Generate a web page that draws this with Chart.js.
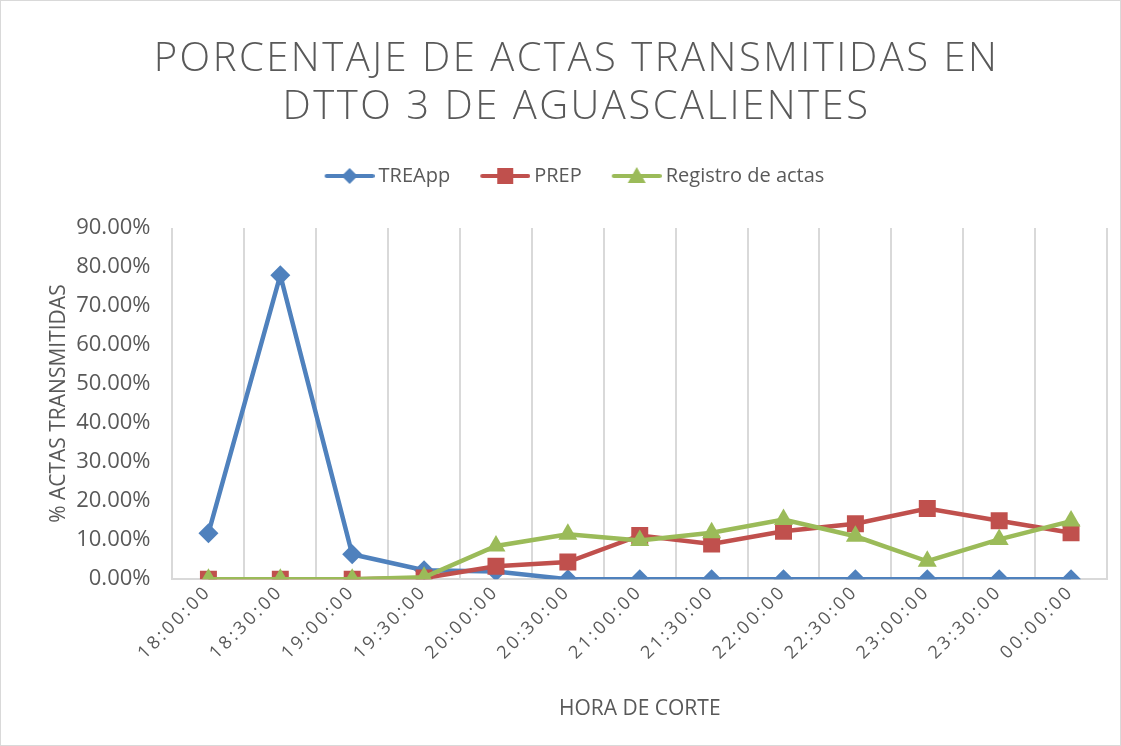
<!DOCTYPE html>
<html>
<head>
<meta charset="utf-8">
<script src="https://cdn.jsdelivr.net/npm/chart.js@4.4.1/dist/chart.umd.min.js"></script>
<style>
    html, body { margin: 0; padding: 0; background: #fff; }
    .chart-box {
        position: relative;
        width: 1119px;
        height: 744px;
        border: 1px solid #d9d9d9;
        background: #fff;
    }
</style>
</head>
<body>
<div class="chart-box">
    <canvas id="actasChart"></canvas>
</div>
<script>
/* ── Data ── */
const horas = ['18:00:00', '18:30:00', '19:00:00', '19:30:00', '20:00:00', '20:30:00', '21:00:00',
               '21:30:00', '22:00:00', '22:30:00', '23:00:00', '23:30:00', '00:00:00'];
const treapp = [11.8, 77.9, 6.4, 2.3, 2.0, 0, 0, 0, 0, 0, 0, 0, 0];
const prep = [0, 0, 0, 0.3, 3.3, 4.4, 11.2, 9.0, 12.3, 14.2, 18.1, 15.0, 11.9];
const registro = [0, 0, 0, 0.5, 8.5, 11.5, 9.9, 11.9, 15.3, 11.0, 4.6, 10.2, 14.9];

const TEXT = '#595959';
const GRID = '#d9d9d9';
const FONT = "'Open Sans', sans-serif";

/* Legend swatch: short line with the marker in the middle */
function legendSwatch(color, style) {
    const c = document.createElement('canvas');
    c.width = 52;
    c.height = 20;
    const g = c.getContext('2d');
    g.strokeStyle = color;
    g.lineWidth = 4;
    g.lineCap = 'round';
    g.beginPath();
    g.moveTo(4, 10);
    g.lineTo(50, 10);
    g.stroke();
    g.fillStyle = color;
    g.beginPath();
    if (style === 'rectRot') {
        g.moveTo(27, 2); g.lineTo(35, 10); g.lineTo(27, 18); g.lineTo(19, 10);
    } else if (style === 'rect') {
        g.rect(19, 2, 16, 16);
    } else {
        g.moveTo(27, 1); g.lineTo(36, 17); g.lineTo(18, 17);
    }
    g.closePath();
    g.fill();
    return c;
}

function serie(label, data, color, style, radius, order) {
    return {
        label: label,
        data: data,
        borderColor: color,
        backgroundColor: color,
        borderWidth: 4.5,
        pointStyle: style,
        pointRadius: radius,
        pointHoverRadius: radius,
        pointBorderWidth: 0,
        tension: 0,
        order: order,
    };
}

const swatches = [
    legendSwatch('#4f81bd', 'rectRot'),
    legendSwatch('#c0504d', 'rect'),
    legendSwatch('#9bbb59', 'triangle'),
];

/* Spaced-out letters on the title and the x tick labels */
function withSpacing(obj, name, spacing) {
    const fn = obj[name];
    if (typeof fn !== 'function') return;
    obj[name] = function (...args) {
        const c = this.ctx;
        const prev = c.letterSpacing;
        c.letterSpacing = spacing;
        try {
            return fn.apply(this, args);
        } finally {
            c.letterSpacing = prev;
        }
    };
}

const layoutTweaks = {
    id: 'layoutTweaks',
    beforeInit(chart) {
        if (chart.legend) {
            const fit = chart.legend.fit;
            chart.legend.fit = function () {
                fit.call(this);
                this.height += 32;
            };
        }
        if (chart.titleBlock) withSpacing(chart.titleBlock, 'draw', '2.5px');
    },
    beforeLayout(chart) {
        const xs = chart.scales.x;
        if (!xs || xs._spaced) return;
        xs._spaced = true;
        withSpacing(xs, '_computeLabelSizes', '3px');
        withSpacing(xs, 'drawLabels', '3px');
        // rotated labels may hang left of the plot, like the original
        const calc = xs._calculatePadding;
        if (typeof calc === 'function') {
            xs._calculatePadding = function (...args) {
                calc.apply(this, args);
                this.paddingLeft = 0;
                this.paddingRight = 0;
            };
        }
    }
};

const ctx = document.getElementById('actasChart');

new Chart(ctx, {
    type: 'line',
    data: {
        labels: horas,
        datasets: [
            serie('TREApp', treapp, '#4f81bd', 'rectRot', 10, 3),
            serie('PREP', prep, '#c0504d', 'rect', 12, 2),
            serie('Registro de actas', registro, '#9bbb59', 'triangle', 11, 1),
        ]
    },
    plugins: [layoutTweaks],
    options: {
        responsive: true,
        maintainAspectRatio: false,
        animation: false,
        layout: {
            autoPadding: false,
            padding: { left: 45, right: 13, top: 35, bottom: 19 }
        },
        plugins: {
            title: {
                display: true,
                text: ['PORCENTAJE DE ACTAS TRANSMITIDAS EN', 'DTTO 3 DE AGUASCALIENTES'],
                color: TEXT,
                font: { family: FONT, size: 40, weight: '300', lineHeight: 1.2 },
                padding: { top: 0, bottom: 0 }
            },
            legend: {
                position: 'top',
                labels: {
                    color: TEXT,
                    font: { family: FONT, size: 20 },
                    usePointStyle: true,
                    pointStyleWidth: 40,
                    boxHeight: 20,
                    padding: 34,
                    generateLabels: (c) => c.data.datasets.map((ds, i) => ({
                        text: ds.label,
                        fontColor: TEXT,
                        pointStyle: swatches[i],
                        datasetIndex: i,
                        hidden: false,
                        lineWidth: 0,
                    }))
                }
            },
            tooltip: { enabled: false }
        },
        scales: {
            x: {
                offset: true,
                grid: {
                    display: true,
                    offset: true,
                    color: GRID,
                    lineWidth: 2,
                    drawTicks: false,
                },
                border: { display: true, color: GRID, width: 2 },
                ticks: {
                    color: TEXT,
                    font: { family: FONT, size: 18 },
                    maxRotation: 45,
                    minRotation: 45,
                    padding: 2,
                    autoSkip: false,
                },
                title: {
                    display: true,
                    text: 'HORA DE CORTE',
                    color: TEXT,
                    font: { family: FONT, size: 21 },
                    padding: { top: 31 }
                }
            },
            y: {
                min: 0,
                max: 90,
                grid: { display: false, drawTicks: false },
                border: { display: false },
                ticks: {
                    stepSize: 10,
                    color: TEXT,
                    font: { family: FONT, size: 22 },
                    padding: 22,
                    callback: (v) => v.toFixed(2) + '%'
                },
                title: {
                    display: true,
                    text: '% ACTAS TRANSMITIDAS',
                    color: TEXT,
                    font: { family: FONT, size: 21 },
                    // tick padding is counted twice on this side, pull the labels back in
                    padding: { top: 0, bottom: -17 }
                }
            }
        }
    }
});
</script>
</body>
</html>
